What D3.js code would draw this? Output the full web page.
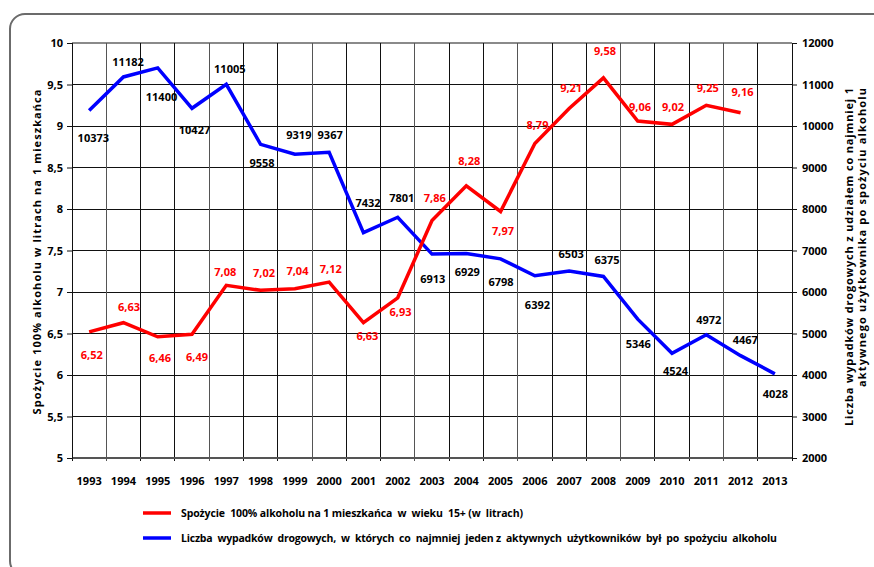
<!DOCTYPE html>
<html><head><meta charset="utf-8">
<script src="https://cdn.jsdelivr.net/npm/d3@7"></script>
<style>
body{margin:0;background:#fff;}
svg{display:block;font-family:"Open Sans",sans-serif;font-weight:bold;}
</style></head>
<body><svg id="c" width="874" height="567"></svg>
<script>
const years = [1993,1994,1995,1996,1997,1998,1999,2000,2001,2002,2003,2004,2005,2006,2007,2008,2009,2010,2011,2012,2013];
const alcohol = [6.52,6.63,6.46,6.49,7.08,7.02,7.04,7.12,6.63,6.93,7.86,8.28,7.97,8.79,9.21,9.58,9.06,9.02,9.25,9.16,null];
const accidents = [10373,11182,11400,10427,11005,9558,9319,9367,7432,7801,6913,6929,6798,6392,6503,6375,5346,4524,4972,4467,4028];
const leftTicks = [5,5.5,6,6.5,7,7.5,8,8.5,9,9.5,10];
const rightTicks = [2000,3000,4000,5000,6000,7000,8000,9000,10000,11000,12000];
const leftTitle = "Spożycie 100% alkoholu w litrach na 1 mieszkańca";
const rightTitle1 = "Liczba wypadków drogowych z udziałem co najmniej 1";
const rightTitle2 = "aktywnego użytkownika po spożyciu alkoholu";
const legend1 = "Spożycie  100% alkoholu na 1 mieszkańca  w  wieku  15+ (w  litrach)";
const legend2 = "Liczba  wypadków  drogowych,  w  których  co  najmniej  jeden z  aktywnych  użytkowników  był  po  spożyciu  alkoholu";

// label placement (offset of label centre from the point, in px)
const redDx = [2.6,5.6,2.3,5,-1,3.4,2.6,1.7,4,2.8,2.8,3,2.4,2.6,2,1.6,2.3,1,1.5,2,0];
const redDy = [23,-16,21,23,-13,-17,-18,-13,13,14,-23,-25,20,-18,-21,-27,-14,-17,-17,-21,0];
const blueDx = [4.2,4.6,3.8,2.5,3.5,1.4,4,1,4.6,4,0.8,1,0.4,2.6,2,3.6,0.6,3.5,2.5,4.7,0.5];
const blueDy = [28,-15,29,22,-15,19,-19,-17,-30,-19,25,19,23,29,-17,-16,25,18,-15,-16,20];

const svg = d3.select("#c");
const L = 72, R = 792, T = 43, B = 458;

// outer frame
svg.append("rect").attr("x",10).attr("y",14).attr("width",900).attr("height",562)
  .attr("rx",15).attr("fill","none").attr("stroke","#6b6b6b").attr("stroke-width",2);

const x = d3.scaleBand().domain(years).range([L,R]);
const cx = d => x(d) + x.bandwidth()/2;
const yL = d3.scaleLinear().domain([5,10]).range([B,T]);
const yR = d3.scaleLinear().domain([2000,12000]).range([B,T]);

const g = svg.append("g");
// horizontal grid
g.selectAll("line.h").data(leftTicks).join("line")
  .attr("x1",L).attr("x2",R).attr("y1",d=>yL(d)).attr("y2",d=>yL(d))
  .attr("stroke",d=>d===10?"#8a8a8a":"#111").attr("stroke-width",d=>d===10?2:1).attr("shape-rendering","crispEdges");
// vertical grid
const bounds = years.map(d=>x(d)).concat([R]);
g.selectAll("line.v").data(bounds).join("line")
  .attr("x1",d=>d).attr("x2",d=>d).attr("y1",T).attr("y2",B+3)
  .attr("stroke",(d,i)=>i%3===1?"#555":"#111").attr("stroke-width",1).attr("shape-rendering","crispEdges");
// bottom axis line
g.append("line").attr("x1",L).attr("x2",R).attr("y1",B).attr("y2",B)
  .attr("stroke","#555").attr("stroke-width",2);

// left axis
const axL = svg.append("g").attr("transform",`translate(${L},0)`)
  .call(d3.axisLeft(yL).tickValues(leftTicks).tickSize(5).tickPadding(4)
    .tickFormat(d=>String(d).replace(".",",")));
axL.select(".domain").attr("stroke","#111");
axL.selectAll("line").attr("stroke","#111");
axL.selectAll("text").attr("font-size",11).attr("font-family","Open Sans, sans-serif").attr("font-weight","bold").attr("fill","#000");

// right axis
const axR = svg.append("g").attr("transform",`translate(${R},0)`)
  .call(d3.axisRight(yR).tickValues(rightTicks).tickSize(5).tickPadding(5).tickFormat(d3.format("d")));
axR.select(".domain").attr("stroke","#111");
axR.selectAll("line").attr("stroke","#111");
axR.selectAll("text").attr("font-size",11).attr("font-family","Open Sans, sans-serif").attr("font-weight","bold").attr("fill","#000");

// bottom axis labels
const axB = svg.append("g").attr("transform",`translate(0,${B})`)
  .call(d3.axisBottom(x).tickSize(0).tickPadding(19));
axB.select(".domain").remove();
axB.selectAll("text").attr("font-size",11).attr("font-family","Open Sans, sans-serif").attr("font-weight","bold").attr("fill","#000");

// lines
const lineRed = d3.line().defined(d=>d[1]!=null).x(d=>cx(d[0])).y(d=>yL(d[1]));
const lineBlue = d3.line().x(d=>cx(d[0])).y(d=>yR(d[1]));
svg.append("path").datum(years.map((y,i)=>[y,accidents[i]])).attr("d",lineBlue)
  .attr("fill","none").attr("stroke","#0000ff").attr("stroke-width",3.5).attr("stroke-linejoin","miter");
svg.append("path").datum(years.map((y,i)=>[y,alcohol[i]])).attr("d",lineRed)
  .attr("fill","none").attr("stroke","#ff0000").attr("stroke-width",3.5).attr("stroke-linejoin","miter");

// labels
svg.append("g").selectAll("text").data(years.map((y,i)=>({y,v:accidents[i],i}))).join("text")
  .attr("x",d=>cx(d.y)+blueDx[d.i]).attr("y",d=>yR(d.v)+blueDy[d.i]).attr("dy","0.36em")
  .attr("text-anchor","middle").attr("font-size",11).attr("fill","#000").text(d=>d.v);
svg.append("g").selectAll("text").data(years.map((y,i)=>({y,v:alcohol[i],i})).filter(d=>d.v!=null)).join("text")
  .attr("x",d=>cx(d.y)+redDx[d.i]).attr("y",d=>yL(d.v)+redDy[d.i]).attr("dy","0.36em")
  .attr("text-anchor","middle").attr("font-size",11).attr("fill","#ff0000").text(d=>d.v.toFixed(2).replace(".",","));

// axis titles
svg.append("text").attr("transform","translate(41,252) rotate(-90)").attr("text-anchor","middle")
  .attr("font-size",11).attr("textLength",325).attr("lengthAdjust","spacing").text(leftTitle);
svg.append("text").attr("transform","translate(853,88) rotate(-90)").attr("text-anchor","end")
  .attr("font-size",11).attr("textLength",338).attr("lengthAdjust","spacing").text(rightTitle1);
svg.append("text").attr("transform","translate(866,88) rotate(-90)").attr("text-anchor","end")
  .attr("font-size",11).attr("textLength",299).attr("lengthAdjust","spacing").text(rightTitle2);

// legend
const leg = [{t:legend1,c:"#ff0000",y:513,w:342},{t:legend2,c:"#0000ff",y:538,w:596}];
const lg = svg.append("g").selectAll("g").data(leg).join("g");
lg.append("line").attr("x1",143).attr("x2",171).attr("y1",d=>d.y).attr("y2",d=>d.y)
  .attr("stroke",d=>d.c).attr("stroke-width",3.5);
lg.append("text").attr("x",181).attr("y",d=>d.y).attr("dy","0.36em").attr("font-size",10.5)
  .attr("textLength",d=>d.w).attr("lengthAdjust","spacing").style("white-space","pre").text(d=>d.t);
</script></body></html>
